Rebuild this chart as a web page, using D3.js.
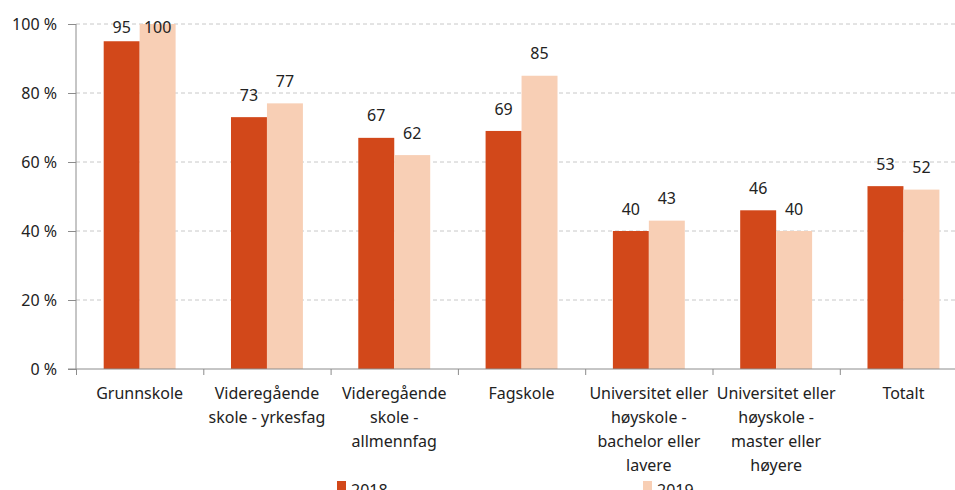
<!DOCTYPE html>
<html lang="no">
<head>
  <meta charset="UTF-8">
  <script src="https://cdn.jsdelivr.net/npm/d3@7/dist/d3.min.js"></script>
  <title>Andel etter utdanning</title>
  <style>
    body { margin: 0; background: #ffffff; }
    svg { display: block; font-family: "Noto Sans", sans-serif; }
    .grid line { stroke: #c8c8c8; stroke-dasharray: 4,3; }
    .axis path, .axis line { stroke: #8c8c8c; }
    .lbl { fill: #222222; }
  </style>
</head>
<body>
<div id="chart"></div>
<script>
  // data
  var categories = [
    ["Grunnskole"],
    ["Videregående", "skole - yrkesfag"],
    ["Videregående", "skole -", "allmennfag"],
    ["Fagskole"],
    ["Universitet eller", "høyskole -", "bachelor eller", "lavere"],
    ["Universitet eller", "høyskole -", "master eller", "høyere"],
    ["Totalt"]
  ];
  var seriesNames = ["2018", "2019"];
  var values2018 = [95, 73, 67, 69, 40, 46, 53];
  var values2019 = [100, 77, 62, 85, 43, 40, 52];
  var yTicks = [0, 20, 40, 60, 80, 100];
  var colors = ["#D2481A", "#F8CFB5"];

  var width = 955, height = 490;
  var m = {left: 76, top: 24, bottom: 369};
  var step = 127.3;
  var plotRight = m.left + step * categories.length; // runs past the window edge, like the original

  var svg = d3.select("#chart").append("svg")
    .attr("width", width)
    .attr("height", height);

  var catIdx = d3.range(categories.length);

  var x0 = d3.scaleBand()
    .domain(catIdx)
    .range([m.left, plotRight]);

  var x1 = d3.scaleBand()
    .domain(seriesNames)
    .range([0, x0.bandwidth()])
    .paddingOuter(0.77);

  var y = d3.scaleLinear()
    .domain([0, 100])
    .range([m.bottom, m.top]);

  var xLin = d3.scaleLinear()
    .domain([0, categories.length])
    .range([m.left, plotRight]);

  // gridlines
  svg.append("g")
    .attr("class", "grid")
    .selectAll("line")
    .data(yTicks.filter(function(d) { return d > 0; }))
    .enter()
    .append("line")
    .attr("x1", m.left)
    .attr("x2", plotRight)
    .attr("y1", function(d) { return y(d); })
    .attr("y2", function(d) { return y(d); });

  // bars
  var rows = catIdx.map(function(i) {
    return [
      {s: seriesNames[0], v: values2018[i], i: i, c: colors[0]},
      {s: seriesNames[1], v: values2019[i], i: i, c: colors[1]}
    ];
  });

  var groups = svg.selectAll(".cat")
    .data(rows)
    .enter()
    .append("g")
    .attr("class", "cat")
    .attr("transform", function(d, i) { return "translate(" + x0(i) + ",0)"; });

  groups.selectAll("rect")
    .data(function(d) { return d; })
    .enter()
    .append("rect")
    .attr("x", function(d) { return x1(d.s); })
    .attr("y", function(d) { return y(d.v); })
    .attr("width", x1.bandwidth())
    .attr("height", function(d) { return m.bottom - y(d.v); })
    .attr("fill", function(d) { return d.c; });

  // value labels
  groups.selectAll("text")
    .data(function(d) { return d; })
    .enter()
    .append("text")
    .attr("class", "lbl")
    .attr("x", function(d) { return x1(d.s) + x1.bandwidth() / 2; })
    .attr("y", function(d) { return Math.max(y(d.v) - 22, m.top + 3); })
    .attr("dy", "0.35em")
    .attr("text-anchor", "middle")
    .style("font-size", "16px")
    .text(function(d) { return d.v; });

  // y axis
  var yAxis = svg.append("g")
    .attr("class", "axis")
    .attr("transform", "translate(" + m.left + ",0)")
    .call(d3.axisLeft(y)
      .tickValues(yTicks)
      .tickSize(8)
      .tickPadding(11)
      .tickFormat(function(d) { return d + " %"; }));
  yAxis.select(".domain").attr("d", "M0," + m.top + "V" + m.bottom);
  yAxis.selectAll("text")
    .attr("class", "lbl")
    .style("font-size", "16px")
    .style("font-family", "Noto Sans");

  // x axis with ticks between the categories
  var xAxis = svg.append("g")
    .attr("class", "axis")
    .attr("transform", "translate(0," + m.bottom + ")")
    .call(d3.axisBottom(xLin)
      .tickValues(d3.range(categories.length + 1))
      .tickSize(6)
      .tickFormat(""));
  xAxis.select(".domain").attr("d", "M" + (m.left - 8) + ",0H" + plotRight);

  // category labels
  var catLabels = svg.append("g")
    .selectAll("text")
    .data(categories)
    .enter()
    .append("text")
    .attr("class", "lbl")
    .attr("text-anchor", "middle")
    .attr("x", function(d, i) { return x0(i) + x0.bandwidth() / 2; })
    .attr("y", m.bottom + 30)
    .style("font-size", "16px");

  catLabels.selectAll("tspan")
    .data(function(d) { return d; })
    .enter()
    .append("tspan")
    .attr("x", function() { return d3.select(this.parentNode).attr("x"); })
    .attr("dy", function(d, j) { return j === 0 ? 0 : 24; })
    .text(function(d) { return d; });

  // legend
  var legendX = [337, 643];
  var legend = svg.append("g")
    .selectAll("g")
    .data(seriesNames)
    .enter()
    .append("g")
    .attr("transform", function(d, i) { return "translate(" + legendX[i] + ",481)"; });

  legend.append("rect")
    .attr("width", 9)
    .attr("height", 9)
    .attr("fill", function(d, i) { return colors[i]; });

  legend.append("text")
    .attr("class", "lbl")
    .attr("x", 14)
    .attr("y", 15)
    .style("font-size", "16px")
    .text(function(d) { return d; });
</script>
</body>
</html>
